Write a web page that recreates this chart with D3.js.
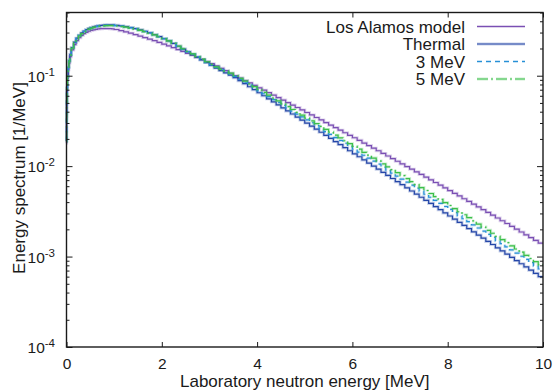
<!DOCTYPE html>
<html>
<head>
<meta charset="utf-8">
<script src="https://cdn.jsdelivr.net/npm/d3@7"></script>
<style>
  body { margin: 0; background: #fff; }
  svg { display: block; }
  text { font-family: "Liberation Sans", Arial, sans-serif; fill: #1a1a1a; }
</style>
</head>
<body>
<svg id="chart" width="560" height="391"></svg>
<script>
// bin edges [MeV]: finer near zero, 0.05 up to 1 MeV, 0.1 above
const lowEdges = [0, 0.002, 0.005, 0.01, 0.02, 0.035, 0.05, 0.07, 0.1]
const binEdges = lowEdges.concat(
    d3.range(3, 21).map(i => +(i * 0.05).toFixed(2)),
    d3.range(11, 101).map(i => i / 10))

const xTicks = [0, 2, 4, 6, 8, 10]
const yExponents = [-4, -3, -2, -1]

const seriesNames = ["Los Alamos model", "Thermal", "3 MeV", "5 MeV"]

const losAlamos = [
    0.0179, 0.0334, 0.0489, 0.0691, 0.0935, 0.1166, 0.138, 0.162,
    0.193, 0.221, 0.244, 0.263, 0.279, 0.292, 0.302, 0.31, 0.317, 0.322, 0.326, 0.329, 0.331, 0.332, 0.332, 0.332, 0.331, 0.329,
    0.3243, 0.3148, 0.3055, 0.2951, 0.2851, 0.2742, 0.2642, 0.2535, 0.2438, 0.2333,
    0.2234, 0.2138, 0.2042, 0.1945, 0.1854, 0.1766, 0.1679, 0.1596, 0.1514, 0.1435,
    0.1358, 0.1282, 0.1208, 0.1138,
    0.1064, 0.1000, 0.0941, 0.0885, 0.0832, 0.0782, 0.0735, 0.0691, 0.0649, 0.0610, 0.0573,
    0.0538, 0.0505, 0.0474, 0.0445, 0.0418, 0.0392, 0.0368, 0.0345, 0.0324, 0.0303,
    0.0284, 0.0267, 0.0250, 0.0234, 0.0219, 0.0206, 0.0193, 0.0180, 0.0169, 0.0158,
    0.01479, 0.01384, 0.01295, 0.01211, 0.01133, 0.01059, 0.00990, 0.00926, 0.00865, 0.00809,
    0.00755, 0.00706, 0.00659, 0.00616, 0.00575, 0.00537, 0.00501, 0.00468, 0.00436, 0.00407,
    0.00380, 0.00354, 0.00330, 0.00308, 0.00287, 0.00267, 0.00249, 0.00232, 0.00216, 0.00201,
    0.00187, 0.00174, 0.00162, 0.00151, 0.00141
]

const thermal = [
    0.019, 0.0355, 0.052, 0.0735, 0.0995, 0.124, 0.147, 0.172,
    0.205, 0.235, 0.26, 0.28, 0.297, 0.311, 0.323, 0.333, 0.341, 0.348, 0.353, 0.357, 0.360, 0.362, 0.364, 0.365, 0.365, 0.365,
    0.3606, 0.3556, 0.3491, 0.3412, 0.3319, 0.3214, 0.3097, 0.2979, 0.2844, 0.2710,
    0.2570, 0.2427, 0.2275, 0.2118, 0.1972, 0.1841, 0.1718, 0.1603, 0.1496, 0.1396,
    0.1303, 0.1216, 0.1140, 0.1076, 0.1016,
    0.0951, 0.0881, 0.0816, 0.0755, 0.0700,
    0.0648, 0.0600, 0.0555, 0.0514, 0.0476, 0.0440, 0.0408, 0.0377, 0.0349, 0.0323,
    0.0299, 0.0277, 0.0256, 0.0237, 0.0219, 0.0203, 0.0187, 0.0173, 0.0160, 0.0148,
    0.0137, 0.0127, 0.0117, 0.01082, 0.01001, 0.00925, 0.00855, 0.00790, 0.00730, 0.00674,
    0.00623, 0.00575, 0.00531, 0.00491, 0.00453, 0.00419, 0.00387, 0.00357, 0.00330, 0.00304,
    0.00281, 0.00259, 0.00239, 0.00221, 0.00204, 0.00188, 0.00173, 0.00160, 0.00147, 0.00136,
    0.00125, 0.001155, 0.001065, 0.000981, 0.000904, 0.000833, 0.000768, 0.000708, 0.000652, 0.000600
]

const mev3 = [
    0.0188, 0.0352, 0.0515, 0.0728, 0.0986, 0.1229, 0.1457, 0.1705,
    0.2032, 0.2329, 0.2577, 0.2775, 0.2943, 0.3082, 0.3201, 0.3300, 0.3379, 0.3449, 0.3498, 0.3538, 0.3568, 0.3587, 0.3607, 0.3617, 0.3617, 0.3617,
    0.3575, 0.3527, 0.3465, 0.3388, 0.3298, 0.3196, 0.3081, 0.2966, 0.2833, 0.2701,
    0.2563, 0.2422, 0.2272, 0.2116, 0.1971, 0.1843, 0.1724, 0.1613, 0.1509, 0.1411,
    0.1321, 0.1237, 0.1164, 0.1102, 0.1044,
    0.0981, 0.0912, 0.0847, 0.0787, 0.0732,
    0.0680, 0.0632, 0.0586, 0.0545, 0.0506, 0.0470, 0.0437, 0.0405, 0.0376, 0.0350,
    0.0325, 0.0302, 0.0280, 0.0260, 0.0241, 0.0224, 0.0207, 0.0192, 0.0179, 0.0166,
    0.0154, 0.0143, 0.0132, 0.01226, 0.01137, 0.01054, 0.00977, 0.00905, 0.00838, 0.00776,
    0.00719, 0.00665, 0.00616, 0.00571, 0.00528, 0.00489, 0.00453, 0.00419, 0.00388, 0.00358,
    0.00332, 0.00306, 0.00283, 0.00262, 0.00243, 0.00224, 0.00207, 0.00191, 0.00176, 0.00163,
    0.00150, 0.00139, 0.00128, 0.001184, 0.001092, 0.001008, 0.000930, 0.000858, 0.000791, 0.000729
]

const mev5 = [
    0.0187, 0.0349, 0.0511, 0.0722, 0.0977, 0.1218, 0.1444, 0.1689,
    0.2013, 0.2308, 0.2553, 0.2750, 0.2917, 0.3054, 0.3172, 0.3270, 0.3349, 0.3417, 0.3466, 0.3506, 0.3535, 0.3555, 0.3574, 0.3584, 0.3584, 0.3584,
    0.3544, 0.3499, 0.3440, 0.3366, 0.3279, 0.3179, 0.3068, 0.2955, 0.2824, 0.2695,
    0.2561, 0.2425, 0.2280, 0.2128, 0.1987, 0.1860, 0.1741, 0.1629, 0.1524, 0.1426,
    0.1337, 0.1255, 0.1184, 0.1124, 0.1067,
    0.1005, 0.0936, 0.0872, 0.0812, 0.0757,
    0.0704, 0.0655, 0.0609, 0.0566, 0.0527, 0.0489, 0.0456, 0.0423, 0.0393, 0.0366,
    0.0340, 0.0317, 0.0295, 0.0275, 0.0255, 0.0238, 0.0220, 0.0205, 0.0191, 0.0177,
    0.0165, 0.0154, 0.0142, 0.01322, 0.01229, 0.01141, 0.01059, 0.00983, 0.00913, 0.00847,
    0.00786, 0.00728, 0.00674, 0.00626, 0.00579, 0.00538, 0.00498, 0.00461, 0.00428, 0.00395,
    0.00367, 0.00339, 0.00313, 0.00290, 0.00269, 0.00248, 0.00229, 0.00212, 0.00195, 0.00181,
    0.00167, 0.001543, 0.001425, 0.001314, 0.001212, 0.001118, 0.001032, 0.000952, 0.000878, 0.000809
]

const series = [
    { name: seriesNames[0], values: losAlamos, color: "#7a4fb3", dash: null },
    { name: seriesNames[1], values: thermal, color: "#2446a8", dash: null },
    { name: seriesNames[2], values: mev3, color: "#2790d6", dash: "5,4" },
    { name: seriesNames[3], values: mev5, color: "#3cbf4a", dash: "11,3,2,3" }
]

const plotLeft = 66.5, plotRight = 543, plotTop = 12.5, plotBottom = 347

const x = d3.scaleLinear().domain([0, 10]).range([plotLeft, plotRight])
const y = d3.scaleLog().domain([1e-4, 0.5]).range([plotBottom, plotTop])

const svg = d3.select("#chart")

// histogram steps
const line = d3.line()
    .x(d => x(d[0]))
    .y(d => y(d[1]))
    .curve(d3.curveStepAfter)

const stepPoints = values => {
    const pts = values.map((v, i) => [binEdges[i], v])
    pts.push([binEdges[values.length], values[values.length - 1]])
    return pts
}

// thin line with a soft halo under it, like the reference raster
const drawSoft = (g, d, s) => {
    g.append("path")
        .attr("d", d)
        .attr("fill", "none")
        .attr("stroke", s.color)
        .attr("stroke-opacity", 0.25)
        .attr("stroke-width", 3)
        .attr("stroke-dasharray", s.dash)
    g.append("path")
        .attr("d", d)
        .attr("fill", "none")
        .attr("stroke", s.color)
        .attr("stroke-width", 1.2)
        .attr("stroke-dasharray", s.dash)
}

const plot = svg.append("g")
series.forEach(s => drawSoft(plot, line(stepPoints(s.values)), s))

// ticks
const yMajor = yExponents.map(e => Math.pow(10, e))
const yMinor = []
yExponents.forEach(e => {
    d3.range(2, 10).forEach(m => {
        const v = m * Math.pow(10, e)
        if (v <= 0.5) yMinor.push(v)
    })
})

const axisColor = "#1a1a1a"
const styleAxis = g => {
    g.select(".domain").remove()
    g.selectAll(".tick line").attr("stroke", axisColor).attr("stroke-width", 1)
}

svg.append("g").attr("transform", `translate(0,${plotBottom})`)
    .call(d3.axisBottom(x).tickValues(xTicks).tickSize(-5).tickPadding(11).tickFormat(d => d))
    .call(styleAxis)
    .selectAll("text").attr("font-size", 15.5).attr("fill", "#1a1a1a")
    .attr("font-family", "Liberation Sans, Arial, sans-serif")

svg.append("g").attr("transform", `translate(0,${plotTop})`)
    .call(d3.axisTop(x).tickValues(xTicks).tickSize(-5).tickFormat(""))
    .call(styleAxis)

svg.append("g").attr("transform", `translate(${plotLeft},0)`)
    .call(d3.axisLeft(y).tickValues(yMajor).tickSize(-6).tickFormat(""))
    .call(styleAxis)
svg.append("g").attr("transform", `translate(${plotLeft},0)`)
    .call(d3.axisLeft(y).tickValues(yMinor).tickSize(-3).tickFormat(""))
    .call(styleAxis)
svg.append("g").attr("transform", `translate(${plotRight},0)`)
    .call(d3.axisRight(y).tickValues(yMajor).tickSize(-6).tickFormat(""))
    .call(styleAxis)
svg.append("g").attr("transform", `translate(${plotRight},0)`)
    .call(d3.axisRight(y).tickValues(yMinor).tickSize(-3).tickFormat(""))
    .call(styleAxis)

// y tick labels 10^n
const yLabels = svg.append("g")
yExponents.forEach(e => {
    const t = yLabels.append("text")
        .attr("x", 55)
        .attr("y", y(Math.pow(10, e)) + 6)
        .attr("text-anchor", "end")
        .attr("font-size", 15.5)
    t.append("tspan").text("10")
    t.append("tspan").attr("dy", -6).attr("font-size", 11.5).text("-" + (-e))
})

// frame
svg.append("rect")
    .attr("x", plotLeft).attr("y", plotTop)
    .attr("width", plotRight - plotLeft).attr("height", plotBottom - plotTop)
    .attr("fill", "none").attr("stroke", axisColor).attr("stroke-width", 1.4)

// axis titles
svg.append("text")
    .attr("x", (plotLeft + plotRight) / 2).attr("y", 387)
    .attr("text-anchor", "middle").attr("font-size", 17)
    .text("Laboratory neutron energy [MeV]")

svg.append("text")
    .attr("transform", `translate(25,${(78 + 278) / 2}) rotate(-90)`)
    .attr("text-anchor", "middle").attr("font-size", 17)
    .text("Energy spectrum [1/MeV]")

// legend
const legend = svg.append("g")
series.forEach((s, i) => {
    const ly = 26.5 + i * 17.5
    legend.append("text")
        .attr("x", 465).attr("y", ly + 6)
        .attr("text-anchor", "end").attr("font-size", 17)
        .text(s.name)
    drawSoft(legend, `M477,${ly}H525`, s)
})
</script>
</body>
</html>
